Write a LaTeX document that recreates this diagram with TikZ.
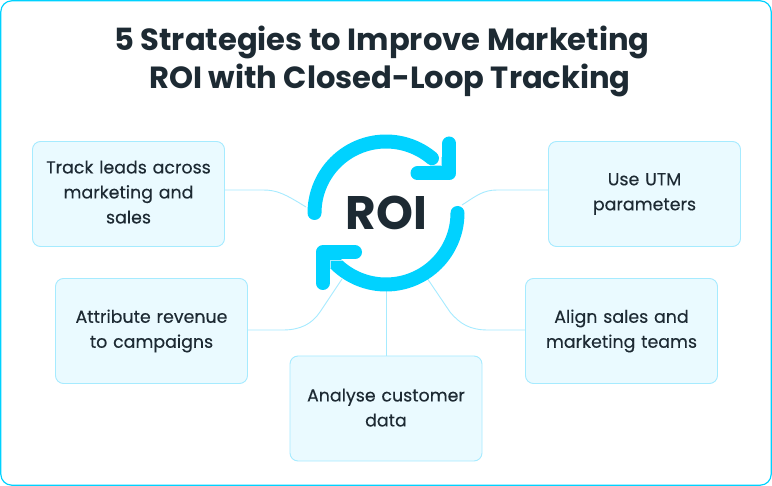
\documentclass[tikz,border=0pt]{standalone}
\usepackage{fontspec}
\setmainfont{Poppins}
\newfontfamily\cardfont[FakeBold=0.25]{Poppins}
\usetikzlibrary{calc}
\definecolor{ink}{HTML}{1D2A33}
\definecolor{ring}{HTML}{00D2FF}
\definecolor{boxfill}{HTML}{EAFAFF}
\definecolor{boxline}{HTML}{A6EBFF}
\definecolor{seam}{HTML}{A8ECFF}
\tikzset{
  x=1pt,y=-1pt,
  card/.style={draw=boxline,fill=boxfill,line width=0.9pt,rounded corners=8pt,minimum width=192pt,minimum height=105pt,
    text width=185pt,align=center,inner sep=0pt,text=ink,font=\cardfont\fontsize{17.4}{25}\selectfont},
  link/.style={draw=boxline,line width=0.9pt},
  loop/.style={draw=ring,line width=14pt,line cap=round,line join=round},
  seamline/.style={draw=seam,line width=0.7pt},
  heading/.style={text=ink,align=center,inner sep=0pt,font=\fontsize{30.6}{38}\selectfont\bfseries},
  hub/.style={text=ink,inner sep=0pt,font=\fontsize{47}{47}\selectfont\bfseries}
}
\begin{document}
\begin{tikzpicture}
\useasboundingbox (0,0) rectangle (772,486);
\draw[draw=ring,line width=1.2pt,rounded corners=11pt,fill=white] (0.8,0.8) rectangle (771.2,485.2);
\node[heading] (title) at (390,61.5) {5 Strategies to Improve Marketing\hspace*{16pt}\\ROI with Closed-Loop Tracking};
\node[card] (track) at (128.5,194) {Track leads across\\marketing and\\sales\rule[-4pt]{0pt}{4pt}};
\node[card] (attr) at (151.5,331) {Attribute revenue\\to campaigns};
\node[card] (utm) at (644.5,194) {Use UTM\\parameters};
\node[card] (align) at (621.5,331) {Align sales and\\marketing teams};
\node[card] (data) at (386,408.5) {Analyse customer\\data\rule[-2pt]{0pt}{2pt}};
\coordinate (ca) at (306,207);
\coordinate (cb) at (342,279);
\coordinate (cc) at (386.7,291);
\coordinate (cd) at (427,278);
\coordinate (ce) at (462,205);
\draw[link] ([yshift=4pt]track.east) -- (263,190) .. controls (277,190) and (285,194) .. (ca);
\draw[link] ([yshift=1pt]attr.east) -- (283,330) .. controls (300,330) and (312,324) .. (320,312) -- (cb);
\draw[link] (cc) -- (cc |- data.north);
\draw[link] ([yshift=1pt]align.west) -- (488,330) .. controls (470,330) and (460,324) .. (450,312) -- (cd);
\draw[link] ([yshift=4pt]utm.west) -- (497,190) .. controls (483,190) and (476,196) .. (ce);
\draw[loop] plot[smooth,samples=50,domain=180:50] ({386+71.5*cos(\x)},{213-71.5*sin(\x)});
\draw[loop] (449.3,143.5) -- (449.3,173.3) -- (417.5,173.3);
\draw[loop] plot[smooth,samples=50,domain=0:-137] ({386+71.5*cos(\x)},{213-71.5*sin(\x)});
\draw[loop] (322.7,283) -- (322.7,252.3) -- (355,252.3);
\draw[seamline] (441.7,157) -- (441.7,165.7) -- (430,165.7);
\draw[seamline] (330.7,268) -- (330.7,260) -- (343,260);
\node[hub] (roi) at (386.5,213) {ROI};
\end{tikzpicture}
\end{document}
